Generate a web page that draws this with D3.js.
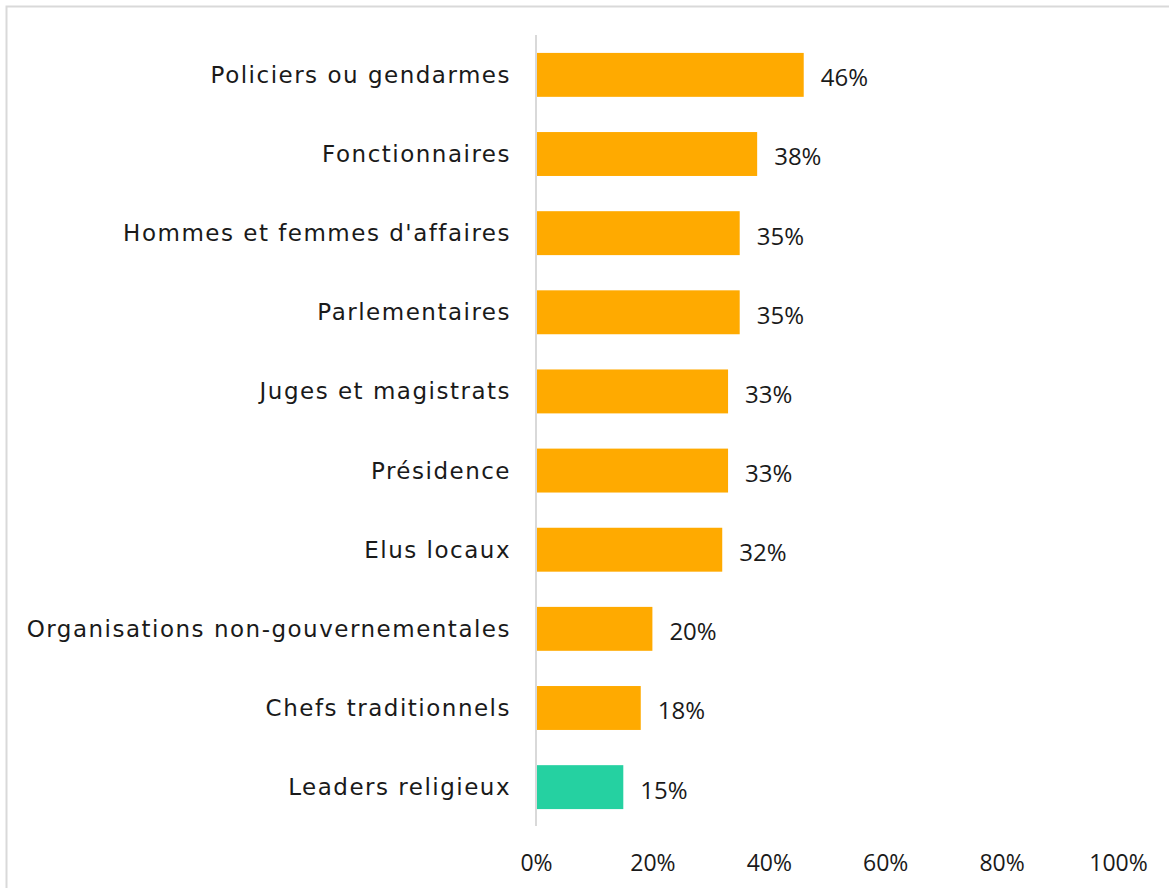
<!DOCTYPE html>
<html><head><meta charset="utf-8">
<script src="https://cdn.jsdelivr.net/npm/d3@7"></script>
<style>body{margin:0;background:#fff}</style>
</head><body>
<svg id="c" width="1169" height="888"></svg>
<script>
const categories = ["Policiers ou gendarmes","Fonctionnaires","Hommes et femmes d'affaires","Parlementaires","Juges et magistrats","Présidence","Elus locaux","Organisations non-gouvernementales","Chefs traditionnels","Leaders religieux"];
const values = [46,38,35,35,33,33,32,20,18,15];
const highlight = ["Leaders religieux"];
const ticks = [0,20,40,60,80,100];

const svg = d3.select("#c");
const font = "'Open Sans', sans-serif";
const catFont = "'DejaVu Sans', sans-serif";
svg.append("rect").attr("x",6.5).attr("y",6.5).attr("width",1180).attr("height",900)
  .attr("fill","#fff").attr("stroke","#d9d9d9").attr("stroke-width",2);

const x = d3.scaleLinear().domain([0,100]).range([536,1118]);
const y = d3.scaleBand().domain(categories).range([35.5,826.5]).paddingInner(0.445).paddingOuter(0.22);

svg.selectAll("rect.bar").data(categories).join("rect").attr("class","bar")
  .attr("x",x(0)).attr("y",d=>y(d)).attr("height",y.bandwidth())
  .attr("width",(d,i)=>x(values[i])-x(0))
  .attr("fill",d=>highlight.includes(d)?"#25D1A1":"#FFAA00");

svg.append("line").attr("x1",x(0)).attr("x2",x(0)).attr("y1",35).attr("y2",826)
  .attr("stroke","#d9d9d9").attr("stroke-width",2);

svg.selectAll("text.cat").data(categories).join("text").attr("class","cat")
  .attr("x",511).attr("y",d=>y(d)+y.bandwidth()/2).attr("dy","0.35em")
  .attr("text-anchor","end").attr("font-family",catFont).attr("font-size",23).attr("fill","#1a1a1a")
  .attr("letter-spacing","1.5px")
  .text(d=>d);

svg.selectAll("text.val").data(categories).join("text").attr("class","val")
  .attr("x",(d,i)=>x(values[i])+17).attr("y",d=>y(d)+y.bandwidth()/2+3).attr("dy","0.35em")
  .attr("font-family",font).attr("font-size",24).attr("fill","#1a1a1a")
  .text((d,i)=>values[i]+"%");

const ax = d3.axisBottom(x).tickValues(ticks).tickFormat(d=>d+"%").tickSize(0).tickPadding(0);
const g = svg.append("g").attr("transform","translate(0,853)").call(ax);
g.select(".domain").remove();
g.selectAll("text").attr("font-family",font).attr("font-size",23).attr("fill","#1a1a1a").attr("dy","0.35em").attr("y",10);
</script>
</body></html>
